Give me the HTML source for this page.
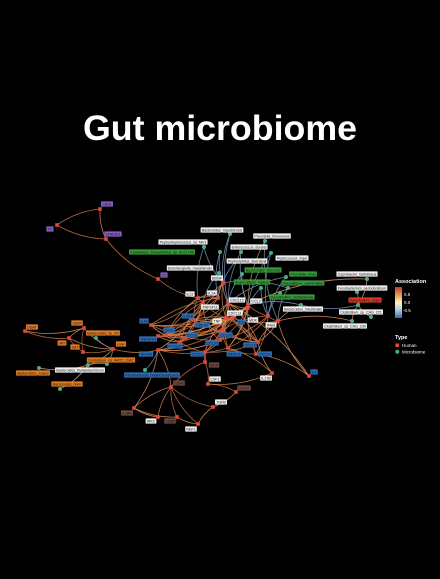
<!DOCTYPE html>
<html><head><meta charset="utf-8"><style>
html,body{margin:0;padding:0;background:#000;}
svg{display:block;}
text{font-family:"Liberation Sans",sans-serif;}
</style></head><body>
<svg id="chart" width="440" height="579" viewBox="0 0 440 579">
<rect width="440" height="579" fill="#000"/>
<text x="220" y="140" text-anchor="middle" fill="#fff" font-size="35" font-weight="bold" textLength="274" lengthAdjust="spacingAndGlyphs">Gut microbiome</text>
<g id="edges"></g>
<g id="nodes"></g>
<g id="labels"></g>
<g id="legend">
<defs><linearGradient id="grad" x1="0" y1="0" x2="0" y2="1">
<stop offset="0" stop-color="#c0392b"/><stop offset="0.3" stop-color="#f4a460"/><stop offset="0.5" stop-color="#fff3c0"/><stop offset="0.75" stop-color="#a9c6e0"/><stop offset="1" stop-color="#3b6aa8"/></linearGradient></defs>
<text x="395" y="283" fill="#fff" font-size="5.5" font-weight="bold">Association</text>
<rect x="395" y="287" width="7" height="31" fill="url(#grad)"/>
<text x="404" y="296" fill="#fff" font-size="4.5">0.5</text>
<text x="404" y="304" fill="#fff" font-size="4.5">0.0</text>
<text x="403" y="312" fill="#fff" font-size="4.5">-0.5</text>
<text x="395" y="339" fill="#fff" font-size="5.5" font-weight="bold">Type</text>
<rect x="395.5" y="343.5" width="3.5" height="3.5" fill="#e8463a"/>
<text x="402" y="347" fill="#fff" font-size="4.5">Human</text>
<circle cx="397.3" cy="351.8" r="2" fill="#4daa8a"/>
<text x="402" y="353.5" fill="#fff" font-size="4.5">Microbiome</text>
</g>
</svg>
<script>
const nodeIds = ["p1","p2","p3","p4","o1","o2","o3","o4","o5","m1","m2","m3","m4","m5","m6",
"b1","b2","b3","b4","b5","b6","b7","b8","b9","b10","b11","b12","b13","b14","b15","b16",
"w1","w2","w3","w4","w5","w6","w7","w8","w9","w10","w11","w12","w13","w14","w15",
"r1","r2","r3","r4","r5",
"n1","n2","n3","n4","n5","n6","n7","n8","n9","n10","n11","n12","n13","n14","n15","n16","n17","n18","n19"];
const nodeLabels = ["CDX1","TC","CHCHD1","TC","DGAT","SSAT","VAT","SAT","Liver","Bacteroides_sp_D2","Clostridium_sp_AM22_11AC","Bacteroides_ovatus","Bacteroides_dorei","Bacteroides_thetaiotaomicron","Intestinimonas_butyriciproducens",
"IL18","TNFSF14","VEGFA","CCL4","IL2RB","CSF1R","CCL8","FLT3LG","CCL11","CCL20","IL6","CCL24","CCL13","MMP12","CXCL9","IL7",
"BDNF","IL1A","CXCL12","CCL2","TNFSF11","CXCL11","TNF","MDK","IFNG","IL17B","TGFB","CSF1","WKC","NEFL","IL12",
"MCP","CD40","IL18R","CD86","CD40L",
"Bacteroides_massiliensis","Prevotella_timonensis","Peptostreptococcus_sp_MV1","Candidatus_Stoquefichus_sp_KLE1796","Enterococcus_durans","Peptococcus_niger","Peptoniphilus_duerdenii","Eisenbergiella_massiliensis","Bacteroides_stercoris","Prevotella_bivia","Anaerostipes_hadrus","Faecalitalea_cylindroides","Desulfovibrio_fairfieldensis","Bacteroides_intestinalis","Coprobacter_fastidiosus","Fusobacterium_periodonticum","Desulfovibrio_piger","Clostridium_sp_CAG_221","Clostridium_sp_CAG_230"];
const nodeTypes = "HHHHHHHHHMMMMMMHHHHHHHHHHHHHHHHHHHHHHHHHHHHHHHHHHHHMMMMMMMMMMMMMMMMMMM".split("");
const nodeX = [100,57,106,158,25,84,69,83,113,96,107,39,60,88,145,
151,158,158,166,194,208,186,180,205,220,232,222,258,228,256,309,
223,218,228,248,203,248,226,268,278,272,213,208,158,198,198,
205,171,134,177,236,
230,265,204,220,241,271,235,219,242,286,261,288,280,301,367,357,358,371,352];
const nodeY = [209,225,239,279,331,328,338,352,349,338,364,368,389,365,370,
325,336,350,335,320,326,338,342,352,340,318,330,342,348,354,376,
283,298,303,305,302,308,318,316,321,373,407,384,417,424,298,
362,387,408,417,392,
234,241,247,252,252,253,262,273,274,277,288,288,293,305,279,292,305,317,321];
const labelColors = ["pu","pu","pu","pu","or","or","or","or","or","or","or","or","or","wh","bl",
"bl","bl","bl","bl","bl","bl","bl","bl","bl","bl","bl","bl","bl","bl","bl","bl",
"wh","wh","wh","wh","wh","wh","wh","wh","wh","wh","wh","wh","wh","wh","wh",
"br","br","br","br","br",
"wh","wh","wh","gr","wh","wh","wh","wh","gr","gr","gr","gr","gr","wh","wh","wh","rd","wh","wh"];
const labelX = [107,50,113,164,32,77,62,75,121,103,111,33,67,80,152,
144,148,146,169,188,202,192,175,197,212,241,226,250,234,265,314,
217,212,237,256,210,235,217,253,271,266,221,215,151,191,190,
214,179,127,170,244,
222,272,183,162,249,292,247,190,263,303,252,303,292,303,357,362,365,361,345];
const labelY = [204,229,234,275,327,323,343,347,344,333,360,373,384,370,375,
321,339,354,330,316,325,335,346,354,343,322,335,345,354,354,372,
278,293,300,301,307,313,321,320,325,378,402,379,421,429,294,
365,383,413,421,388,
230,236,242,252,247,258,261,268,270,274,282,283,297,309,274,288,300,312,326];
const edgeFrom = ["p1","p1","p2","p3","p4","o1","o1","o2","o3","o2","o3","o4","o2","m1","m2","m5","m2","m3","m4","o5","m6",
"b1","b1","b1","b2","b2","b3","b3","b4","b4","b4","b5","b5","b5","b6","b6","b7","b7","b8","b8","b9","b9","b10","b10","b11","b11","b12","b12","b13","b14","b14","b15",
"w1","w1","w2","w2","w3","w3","w4","w5","w5","w6","w6","w7","w7","w7","w8","w15","w15","w15","b1","b2","b3","b4","b6","b10","b11","w3","w7","b12",
"n1","n1","n2","n3","n4","n5","n6","n7","n8","n9","n10","n11","n12","n13","n14","n14","n17","n17","n17","n17","n14","n19","n15","n3","n8","n9","n11",
"r1","r2","r2","r2","r2","r3","r3","r4","r2","w11","r5","w12","w11","w12","r1","w10","b16","b16","r3","r2","b9","b13","w9",
"b1","b1","b2","b2","b3","b3","b4","b4","b5","b6","b7","b8","b9","b10","b11","b12","b13","b14","b15","w1","w2","w3","w4","w5","w6","w7","w8","w9","w15","b1","b3","b8","b7","b9","w5","w2","b14","b13","n2","n6","n10","n12","n4","n5"];
const edgeTo = ["p2","p3","p3","p4","w15","o2","o3","o3","o4","o4","o5","o5","o5","o5","o5","o5","m5","m5","m5","b3","b3",
"b4","w7","b5","b4","b8","b8","w5","b7","b5","w3","b6","w2","w6","b10","w4","b8","b11","b9","w7","b10","b12","b12","w8","w4","w7","b13","b14","w9","b15","w6","w8",
"w2","w3","w5","w15","w6","b11","w8","w7","b6","w7","b12","b10","b5","b14","w9","w5","b5","w1","w15","b6","b10","w1","b11","w3","b13","w7","b9","b7",
"w1","w3","w4","w1","w1","w3","w8","w2","w1","w4","w8","w6","w9","w8","w9","w4","n15","n16","n18","n19","n17","w9","w4","w15","w5","w3","w8",
"r2","r3","r4","w13","w14","w13","r4","w14","w11","r5","w12","r1","w14","w10","b9","b14","b15","w3","b3","b3","r1","w10","b16",
"w6","b10","w7","b12","b10","b14","b12","w6","b11","b13","w4","w3","w7","w6","w9","w3","w7","w4","b11","w7","b7","b13","b10","b8","b15","b9","b12","b13","b4","b8","b12","w5","w5","b13","b4","b1","w8","w3","w9","w4","w3","w1","w2","w4"];
const edgeValues = [0.4,0.3,0.5,0.4,0.4,0.3,0.5,0.4,0.6,0.7,0.4,0.5,0.3,-0.4,-0.3,0.3,0.2,0.2,0.2,0.4,-0.4,
0.5,0.4,0.6,0.5,0.4,0.5,0.3,0.6,0.5,0.4,0.6,0.5,0.4,0.5,0.6,0.5,0.4,0.6,0.5,0.5,0.6,0.4,0.5,0.6,0.5,0.4,0.5,0.4,0.6,0.5,0.4,
0.3,0.4,0.5,0.4,0.5,0.6,0.4,0.5,0.5,0.4,0.6,0.5,0.4,0.5,0.4,0.5,0.4,0.3,0.4,0.5,0.6,0.4,0.5,0.5,0.6,0.4,0.5,0.6,
-0.3,-0.4,0.4,-0.3,-0.3,-0.4,-0.4,-0.3,-0.4,0.3,-0.3,-0.3,-0.3,-0.4,0.4,-0.3,0.3,0.4,0.4,0.3,-0.3,0.4,0.3,-0.4,-0.4,-0.3,-0.3,
0.5,0.4,0.5,0.4,0.5,0.4,0.3,0.4,0.5,0.4,0.5,0.4,0.3,0.4,0.5,0.4,0.3,0.3,0.3,0.4,0.4,0.3,0.3,
0.4,0.5,0.4,0.5,0.4,0.5,0.5,0.4,0.5,0.4,0.5,0.4,0.5,0.4,0.5,0.4,0.5,0.4,0.5,0.4,0.5,0.4,0.5,0.4,0.5,0.4,0.5,0.4,0.5,0.4,0.5,0.4,0.5,0.4,0.5,0.4,0.5,0.4,-0.3,-0.4,-0.3,-0.3,-0.4,-0.3];

const NS="http://www.w3.org/2000/svg";
const palette={pu:"#8a5cc0",or:"#e07b25",wh:"#ededed",bl:"#2e6db4",gr:"#3a9a3a",br:"#6e4a40",rd:"#d83a2a"};
function edgeColor(v){
  if(v>=0){const t=Math.min(1,v/0.8);
    const r=Math.round(250-70*t),g=Math.round(190-110*t),b=Math.round(130-90*t);return `rgb(${r},${g},${b})`;}
  const t=Math.min(1,-v/0.8);return `rgb(${Math.round(150-60*t)},${Math.round(175-50*t)},${Math.round(200-20*t)})`;
}
const idx={};nodeIds.forEach((id,i)=>idx[id]=i);
const eg=document.getElementById("edges");
edgeFrom.forEach((f,i)=>{
  const a=idx[f],b=idx[edgeTo[i]];
  const x1=nodeX[a],y1=nodeY[a],x2=nodeX[b],y2=nodeY[b];
  const mx=(x1+x2)/2,my=(y1+y2)/2,dx=x2-x1,dy=y2-y1;
  const cx=mx-dy*0.13,cy=my+dx*0.13;
  const p=document.createElementNS(NS,"path");
  p.setAttribute("d",`M${x1},${y1} Q${cx},${cy} ${x2},${y2}`);
  p.setAttribute("fill","none");
  p.setAttribute("stroke",edgeColor(edgeValues[i]));
  p.setAttribute("stroke-width","0.8");
  p.setAttribute("stroke-opacity","0.85");
  
  
  eg.appendChild(p);
});
const lg=document.getElementById("labels");
nodeIds.forEach((id,i)=>{
  const t=document.createElementNS(NS,"text");
  t.setAttribute("x",labelX[i]);t.setAttribute("y",labelY[i]+1.3);
  t.setAttribute("font-size","3.6");t.setAttribute("text-anchor","middle");
  t.setAttribute("fill","#111");
  t.textContent=nodeLabels[i];
  
  
  lg.appendChild(t);
  const w=t.getComputedTextLength();
  const r=document.createElementNS(NS,"rect");
  r.setAttribute("x",labelX[i]-w/2-1.2);r.setAttribute("y",labelY[i]-2.6);
  r.setAttribute("width",w+2.4);r.setAttribute("height",5.2);r.setAttribute("rx","0.6");
  r.setAttribute("fill",palette[labelColors[i]]);
  
  
  lg.insertBefore(r,t);
});
const ng=document.getElementById("nodes");
nodeIds.forEach((id,i)=>{
  let el;
  if(nodeTypes[i]==="H"){el=document.createElementNS(NS,"rect");
    el.setAttribute("x",nodeX[i]-1.8);el.setAttribute("y",nodeY[i]-1.8);el.setAttribute("width",3.6);el.setAttribute("height",3.6);el.setAttribute("fill","#e8463a");}
  else{el=document.createElementNS(NS,"circle");
    el.setAttribute("cx",nodeX[i]);el.setAttribute("cy",nodeY[i]);el.setAttribute("r",2);el.setAttribute("fill","#4daa8a");}
  
  
  ng.appendChild(el);
});
</script>
</body></html>
